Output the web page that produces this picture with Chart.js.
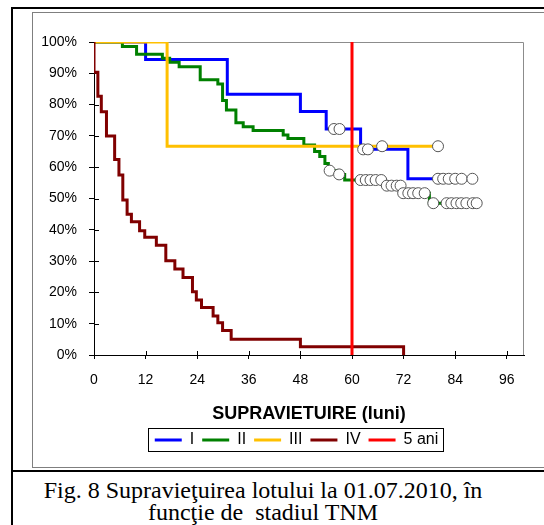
<!DOCTYPE html>
<html>
<head>
<meta charset="utf-8">
<script src="https://cdn.jsdelivr.net/npm/chart.js@4/dist/chart.umd.min.js"></script>
<style>
  html, body { margin: 0; padding: 0; background: #fff; }
  body { width: 544px; height: 525px; position: relative; overflow: hidden; }
  .rule { position: absolute; background: #000; }
  #frame { position: absolute; left: 32px; top: 12px; width: 540px; height: 456px;
           border: 1px solid #7f7f7f; box-sizing: border-box; }
  #wrap { position: absolute; left: 32px; top: 12px; width: 529px; height: 456px; }
  #caption { position: absolute; left: 12px; top: 479px; width: 502px; text-align: center;
             font-family: "Liberation Serif", "Times New Roman", serif; font-size: 24px;
             line-height: 22px; color: #000; white-space: nowrap; }
</style>
</head>
<body>
<div class="rule" style="left:11px;top:7px;width:2px;height:518px"></div>
<div class="rule" style="left:11px;top:7px;width:533px;height:2px"></div>
<div class="rule" style="left:11px;top:470px;width:533px;height:2px"></div>
<div id="frame"></div>
<div id="wrap"><canvas id="c" width="529" height="456"></canvas></div>
<div id="caption">Fig. 8 Supravieţuirea lotului la 01.07.2010, în<br>funcţie de&nbsp; stadiul TNM</div>

<script>
// Kaplan-Meier survival by TNM stage (months, % surviving after each event)
const monthsI = [0, 12, 31, 48, 54, 62, 73, 88];
const survI   = [100, 94.4, 83.3, 77.8, 72.2, 65.7, 56.3, 56.3];

const monthsII = [0, 6.6, 9.9, 15.9, 17.6, 19.8, 24.7, 28.8, 29.9, 30.8, 33, 34.7, 37, 44, 45.1,
                  48.8, 51.3, 52.5, 53.7, 54.5, 56.5, 58.3, 67.2, 71.5, 78, 89];
const survII   = [100, 98.6, 96.1, 94.8, 93.5, 92.1, 87.9, 86.6, 81.3, 78.3, 74.2, 72.9, 71.7, 70.3, 69.2,
                  67.1, 65.0, 63.4, 61.2, 58.9, 57.7, 55.9, 54.1, 51.7, 48.5, 48.5];

const monthsIII = [0, 17, 80];
const survIII   = [100, 66.7, 66.7];

const monthsIV = [0, 0, 0.9, 1.7, 2.9, 4.8, 5.8, 6.7, 7.7, 8.7, 10.6, 11.8, 14.5, 16.7, 18.8,
                  20.7, 22.9, 23.8, 25, 27.7, 28.8, 29.9, 31.9, 48, 72];
const survIV   = [100, 90.3, 82.7, 77.7, 70, 62.5, 57.5, 49.5, 45, 42.6, 39.7, 37.6, 35.1, 30.1, 27.5,
                  24.8, 20.2, 17.6, 15.2, 12.5, 10.3, 7.8, 5, 2.6, 0];

// 5-year reference line
const monthsFiveYears = [60, 60];
const survFiveYears   = [0, 100];

// censored observations
const censorMonthsI = [55.8, 57.1, 62.6, 63.7, 80, 81.2, 82.5, 84, 85.5, 88];
const censorSurvI   = [72.2, 72.2, 65.7, 65.7, 56.3, 56.3, 56.3, 56.3, 56.3, 56.3];

const censorMonthsII = [54.8, 57, 62, 63.2, 64.3, 65.5, 66.8, 68.1, 69.2, 70.4, 71.3,
                        71.9, 73.1, 74.2, 75.4, 76.9, 78.9, 82, 83.1, 84.3, 85.4, 86.6, 88.1, 89];
const censorSurvII   = [58.9, 57.7, 55.9, 55.9, 55.9, 55.9, 55.9, 54.1, 54.1, 54.1, 54.1,
                        51.7, 51.7, 51.7, 51.7, 51.7, 48.5, 48.5, 48.5, 48.5, 48.5, 48.5, 48.5, 48.5];

const censorMonthsIII = [67, 80];
const censorSurvIII   = [66.7, 66.7];

const seriesNames  = ['I', 'II', 'III', 'IV', '5 ani'];
const seriesColors = ['#0000ff', '#008000', '#ffc000', '#800000', '#ff0000'];

const monthTicks   = [0, 12, 24, 36, 48, 60, 72, 84, 96];
const percentTicks = [0, 10, 20, 30, 40, 50, 60, 70, 80, 90, 100];

const toPoints = (xs, ys) => xs.map((x, i) => ({ x, y: ys[i] }));

function curve(i, xs, ys, order) {
  return {
    label: seriesNames[i], data: toPoints(xs, ys),
    borderColor: seriesColors[i], backgroundColor: seriesColors[i],
    borderWidth: 3, pointRadius: 0, stepped: 'before', fill: false, order
  };
}
function censored(label, xs, ys) {
  return {
    label, data: toPoints(xs, ys), showLine: false,
    pointRadius: 5.5, pointBackgroundColor: '#ffffff', pointBorderColor: '#555555',
    pointBorderWidth: 1, order: 0
  };
}

// gray top/right plot border and the inner half of each cross tick
const axisExtras = {
  id: 'axisExtras',
  beforeDatasetsDraw(chart) {
    const { ctx, chartArea: a, scales: { x, y } } = chart;
    ctx.save();
    ctx.strokeStyle = '#8c8c8c';
    ctx.lineWidth = 1;
    ctx.beginPath();
    ctx.moveTo(a.left, a.top + 0.5);
    ctx.lineTo(a.right - 0.5, a.top + 0.5);
    ctx.lineTo(a.right - 0.5, a.bottom);
    ctx.stroke();
    ctx.strokeStyle = '#000';
    ctx.beginPath();
    y.ticks.forEach(t => {
      const py = Math.round(y.getPixelForValue(t.value)) + 0.5;
      ctx.moveTo(a.left, py); ctx.lineTo(a.left + 5, py);
    });
    x.ticks.forEach(t => {
      const px = Math.round(x.getPixelForValue(t.value)) + 0.5;
      ctx.moveTo(px, a.bottom); ctx.lineTo(px, a.bottom - 4);
    });
    ctx.stroke();
    ctx.restore();
  }
};

// box around the legend entries
const legendFrame = {
  id: 'legendFrame',
  afterDraw(chart) {
    const boxes = chart.legend && chart.legend.legendHitBoxes;
    if (!boxes || !boxes.length) return;
    const first = boxes[0], last = boxes[boxes.length - 1];
    const cy = first.top + first.height / 2;
    const left = Math.round(first.left - 7) + 0.5;
    const right = Math.round(last.left + last.width + 5) + 0.5;
    const top = Math.round(cy - 12) + 0.5;
    const ctx = chart.ctx;
    ctx.save();
    ctx.strokeStyle = '#000';
    ctx.lineWidth = 1;
    ctx.strokeRect(left, top, right - left, 23);
    ctx.restore();
  }
};

Chart.defaults.font.family = "'Liberation Sans', Arial, sans-serif";
Chart.defaults.color = '#000';

new Chart(document.getElementById('c'), {
  type: 'line',
  data: {
    datasets: [
      curve(0, monthsI, survI, 5),
      curve(1, monthsII, survII, 4),
      curve(2, monthsIII, survIII, 3),
      curve(3, monthsIV, survIV, 2),
      { label: seriesNames[4], data: toPoints(monthsFiveYears, survFiveYears),
        borderColor: seriesColors[4], backgroundColor: seriesColors[4],
        borderWidth: 3, pointRadius: 0, fill: false, order: 1 },
      censored('cenzurat I', censorMonthsI, censorSurvI),
      censored('cenzurat II', censorMonthsII, censorSurvII),
      censored('cenzurat III', censorMonthsIII, censorSurvIII)
    ]
  },
  options: {
    responsive: false,
    animation: false,
    events: [],
    layout: { padding: { left: 0, right: 0, top: 30, bottom: 10 } },
    scales: {
      x: {
        type: 'linear', min: 0, max: 100,
        afterBuildTicks: s => { s.ticks = monthTicks.map(v => ({ value: v })); },
        afterFit: s => { s.height = 69; },
        grid: { drawOnChartArea: false, drawTicks: true, tickLength: 4, color: '#000' },
        border: { display: true, color: '#000', width: 1 },
        ticks: { font: { size: 14 }, color: '#000', padding: 13, maxRotation: 0 },
        title: { display: true, text: 'SUPRAVIETUIRE (luni)', color: '#000',
                 font: { size: 18, weight: 'bold' }, padding: { top: 0, bottom: -1 } }
      },
      y: {
        min: 0, max: 100,
        afterBuildTicks: s => { s.ticks = percentTicks.map(v => ({ value: v })); },
        afterFit: s => { s.width = 62; },
        grid: { drawOnChartArea: false, drawTicks: true, tickLength: 5, color: '#000' },
        border: { display: true, color: '#000', width: 1 },
        ticks: { font: { size: 14 }, color: '#000', padding: 12, callback: v => v + '%' }
      },
      // empty margin on the right of the plot (the chart frame runs on past it)
      margin: {
        position: 'right', display: true,
        afterFit: s => { s.width = 37; },
        grid: { display: false }, border: { display: false }, ticks: { display: false }
      }
    },
    plugins: {
      tooltip: { enabled: false },
      legend: {
        position: 'bottom', align: 'center',
        labels: {
          boxWidth: 27, boxHeight: 3, padding: 8, color: '#000', font: { size: 16 },
          generateLabels: () => seriesNames.map((name, i) => ({
            text: name, fillStyle: seriesColors[i], strokeStyle: seriesColors[i],
            lineWidth: 0, hidden: false, datasetIndex: i, fontColor: '#000'
          }))
        }
      }
    }
  },
  plugins: [axisExtras, legendFrame]
});
</script>
</body>
</html>
